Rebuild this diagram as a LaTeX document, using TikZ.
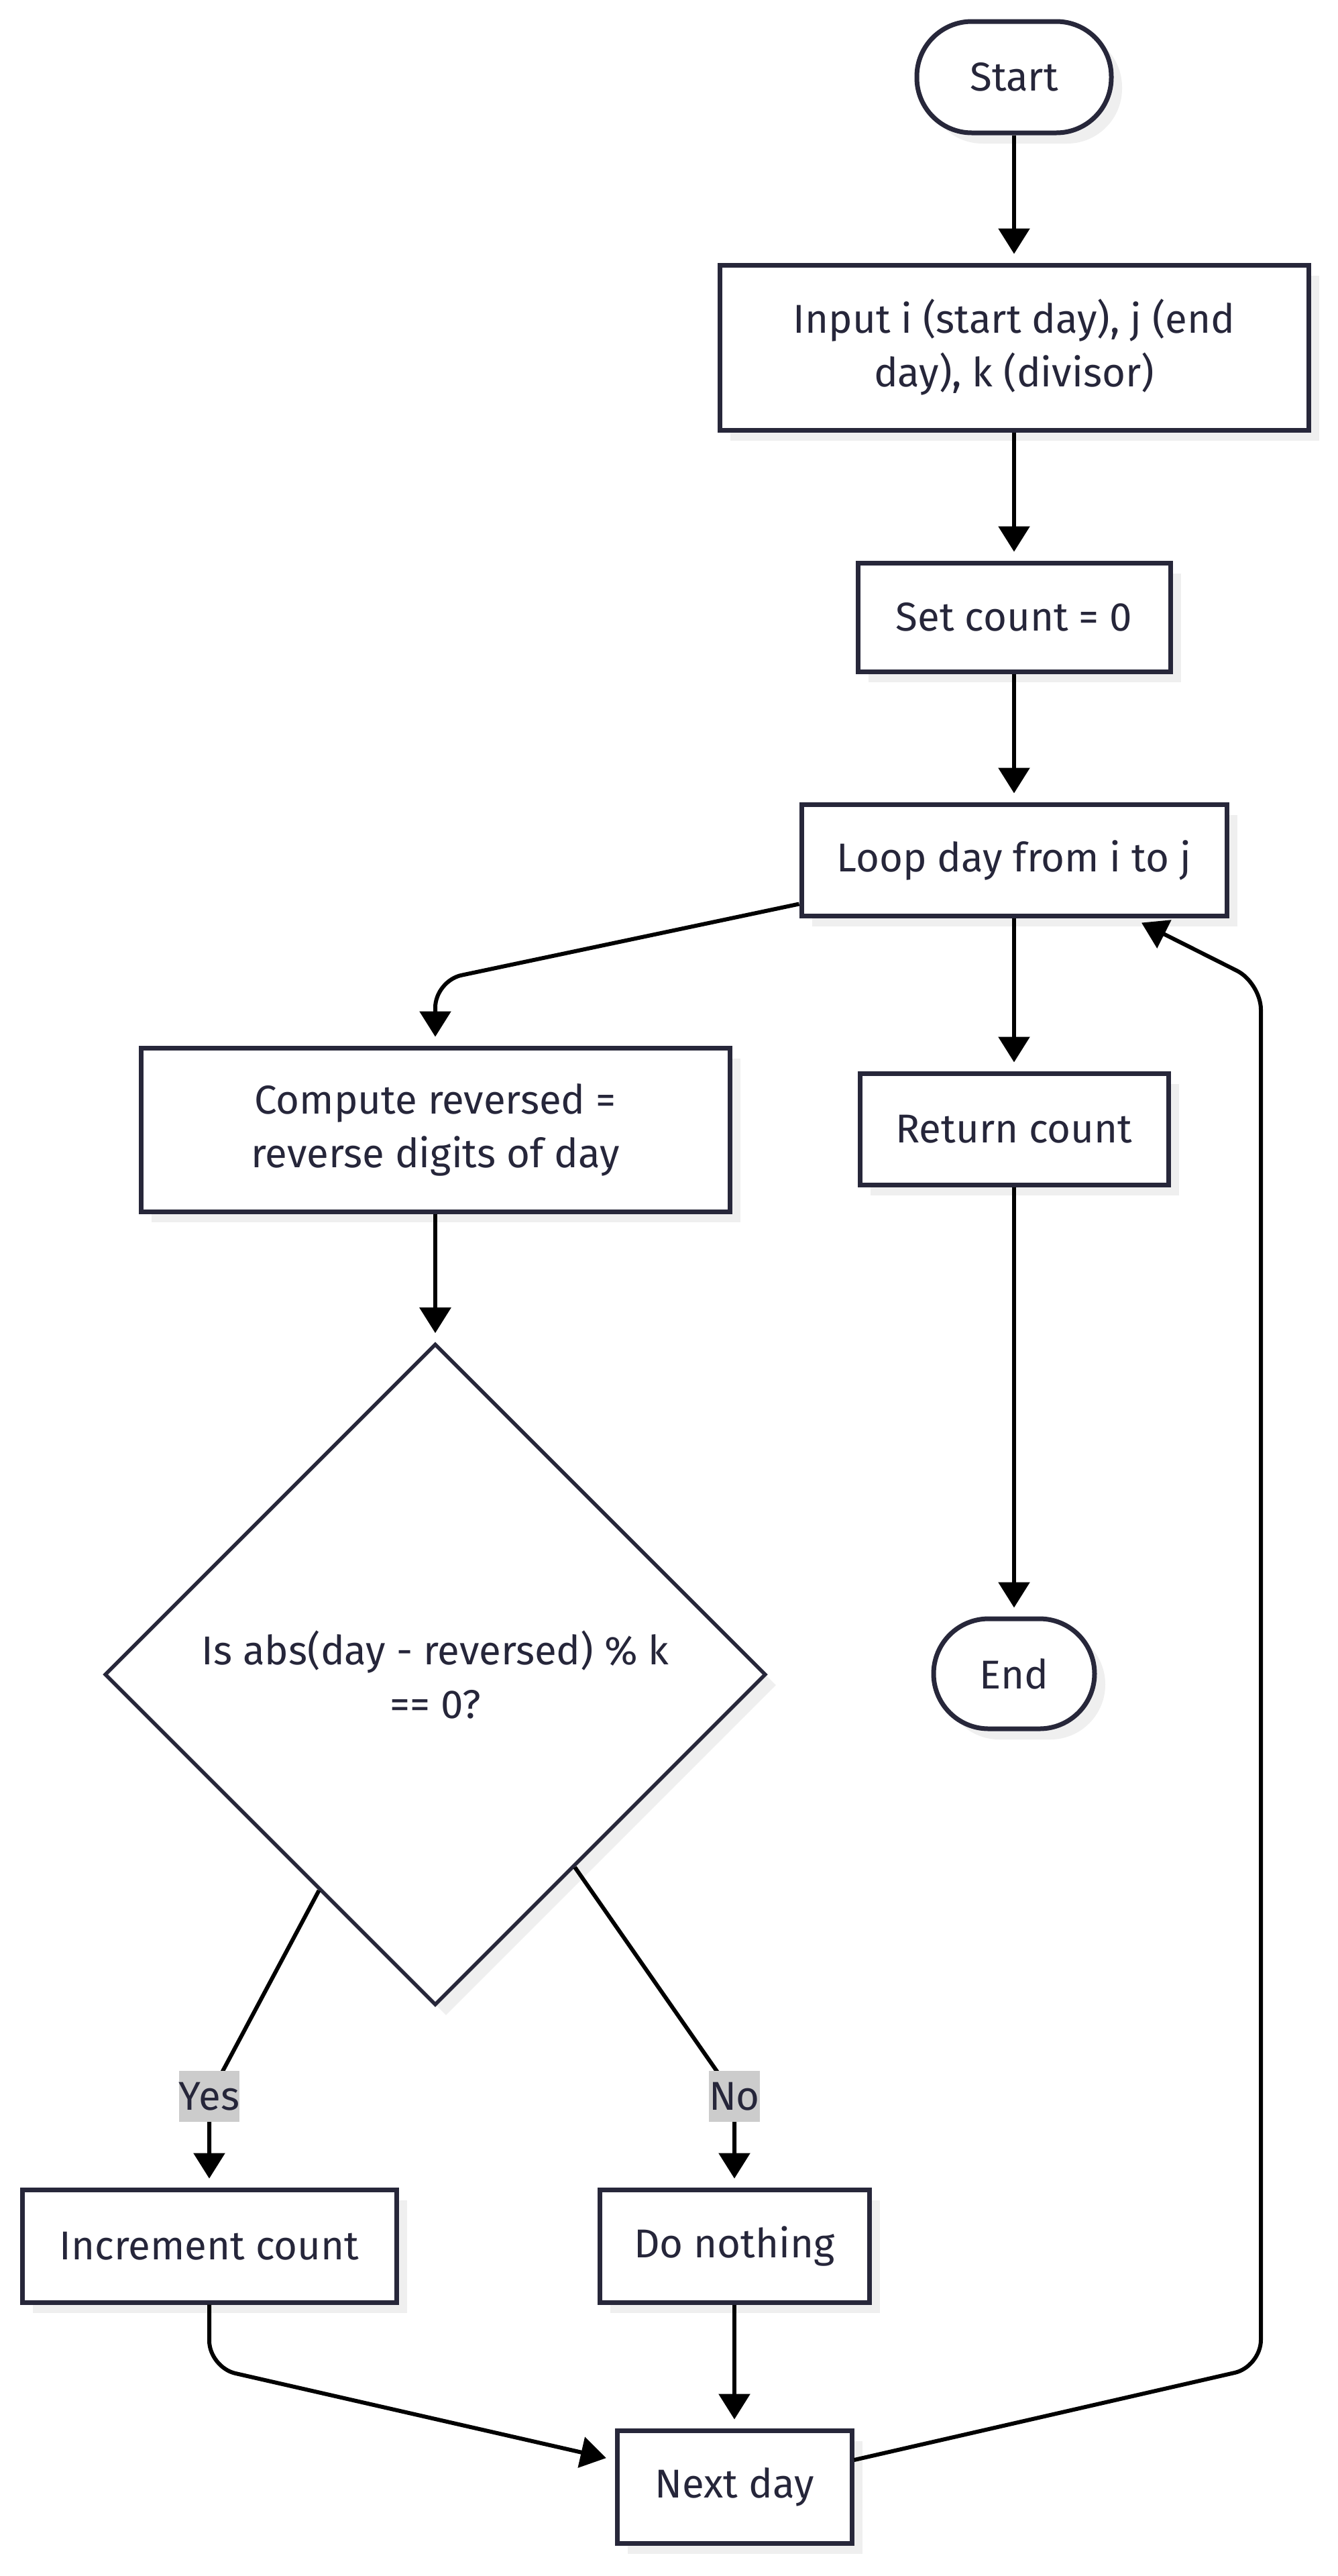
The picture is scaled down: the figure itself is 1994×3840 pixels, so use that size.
\documentclass[tikz,border=0pt]{standalone}
\usepackage{fontspec}
\setmainfont{Fira Sans}
\usetikzlibrary{shapes.geometric, shadows, calc, arrows.meta}
\definecolor{strokec}{RGB}{39,39,58}
\definecolor{textc}{RGB}{38,38,58}
\definecolor{shadowc}{RGB}{239,239,239}
\definecolor{lblbg}{RGB}{204,204,204}
\tikzset{
  shade16/.style={drop shadow={shadow xshift=8pt, shadow yshift=-8pt, fill=shadowc, opacity=1}},
  txt/.style={font=\fontsize{30}{40}\selectfont, text=textc, align=center},
  procbox/.style={txt, rectangle, draw=strokec, line width=3.5pt, fill=white, inner sep=0pt, shade16},
  termbox/.style={procbox, rounded corners=41pt},
  decbox/.style={txt, diamond, aspect=1, draw=strokec, line width=2.75pt, fill=white, inner sep=0pt, shade16},
  lbl/.style={txt, fill=lblbg, inner sep=0pt},
  arr/.style={draw=black, line width=3pt, -{Triangle[length=19pt, width=23pt]}, shorten >=6.5pt},
}
\begin{document}
\begin{tikzpicture}[x=0.5pt, y=-0.5pt]
\useasboundingbox (0,0) rectangle (1994,3840);
\fill[white] (0,0) rectangle (1994,3840);

% nodes
\node[termbox, minimum width=145pt, minimum height=83pt] (start) at (1512,115) {Start};
\node[procbox, minimum width=439pt, minimum height=123pt] (input) at (1512,518) {Input i (start day), j (end\\day), k (divisor)};
\node[procbox, minimum width=233pt, minimum height=81pt] (setc) at (1512,920) {Set count = 0};
\node[procbox, minimum width=317pt, minimum height=83pt] (loop) at (1512,1282) {Loop day from i to j};
\node[procbox, minimum width=439pt, minimum height=122pt] (compute) at (649,1684) {Compute reversed =\\reverse digits of day};
\node[procbox, minimum width=230pt, minimum height=83pt] (ret) at (1512,1683) {Return count};
\node[decbox, minimum width=493pt, minimum height=493pt] (dec) at (649,2496) {Is abs(day - reversed) \% k\\== 0?};
\node[termbox, minimum width=120pt, minimum height=82pt] (endn) at (1512,2495) {End};
\node[procbox, minimum width=279pt, minimum height=84pt] (inc) at (312,3348) {Increment count};
\node[procbox, minimum width=201pt, minimum height=84pt] (donot) at (1095,3348) {Do nothing};
\node[procbox, minimum width=175pt, minimum height=84pt] (next) at (1095,3707) {Next day};

% bend points
\coordinate (b1) at (649,1462);
\coordinate (yespos) at (312,3125);
\coordinate (nopos) at (1095,3125);
\coordinate (b3) at (312,3529);
\coordinate (b4) at (1880,3528);
\coordinate (b5) at (1880,1465);
\coordinate (looptip) at ($(loop.south)+(190,7)$);

% connectors
\draw[arr] (start) -- (input);
\draw[arr] (input) -- (setc);
\draw[arr] (setc) -- (loop);
\draw[arr, rounded corners=20pt] ($(loop.south west)+(0,-21)$) -- (b1) -- (compute.north);
\draw[arr] (loop) -- (ret);
\draw[arr] (ret) -- (endn);
\draw[arr] (compute) -- (dec);
\draw[arr, rounded corners=8pt] ($(dec.west)!0.65!(dec.south)$) -- (yespos) -- (inc.north);
\draw[arr, rounded corners=8pt] ($(dec.east)!0.58!(dec.south)$) -- (nopos) -- (donot.north);
\draw[arr, rounded corners=20pt] (inc.south) -- (b3) -- ($(next.west)+(0,-40)$);
\draw[arr] (donot) -- (next);
\draw[arr, rounded corners=20pt, shorten >=0pt] ($(next.east)+(0,-40)$) -- (b4) -- (b5) -- (looptip);

% edge labels
\node[lbl, minimum width=44pt, minimum height=38pt] (yesl) at (yespos) {Yes};
\node[lbl, minimum width=34pt, minimum height=38pt] (nol) at (nopos) {No};
\end{tikzpicture}
\end{document}
